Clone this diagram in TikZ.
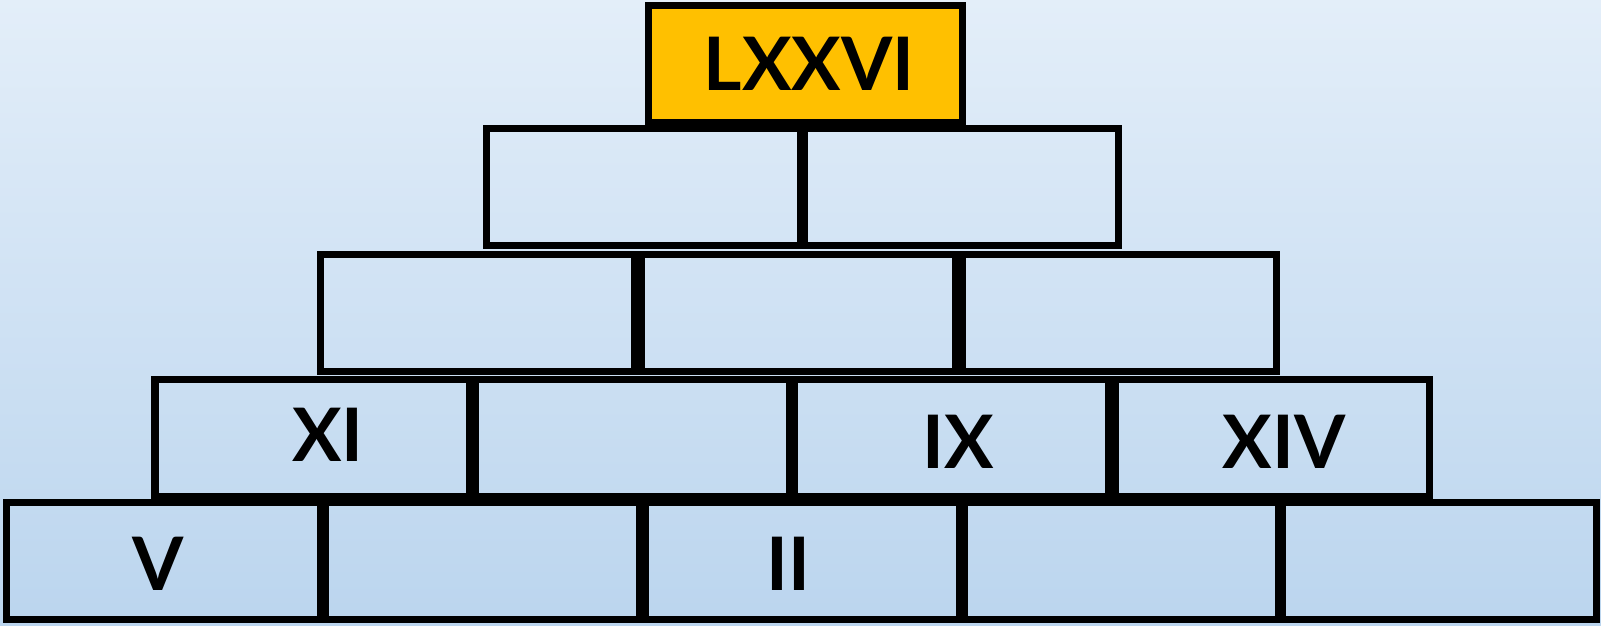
\documentclass[tikz,border=0pt]{standalone}
\usepackage{fontspec}
\setmainfont{Lato}
\usetikzlibrary{positioning}

\definecolor{sky top}{HTML}{E3EEF9}
\definecolor{sky bottom}{HTML}{BBD5EE}
\definecolor{gold}{HTML}{FFC000}

\tikzset{
  brick/.style={draw=black, line width=0.07cm, rectangle, inner sep=0pt,
    minimum width=3.14cm, minimum height=1.17cm},
  numeral/.style={font=\fontsize{21}{21}\selectfont\bfseries, inner sep=0pt}
}

\begin{document}
\begin{tikzpicture}

% Background, also fixes the size of the picture
\shade[top color=sky top, bottom color=sky bottom] (0,0) rectangle (16.01,6.26);
\useasboundingbox (0,0) rectangle (16.01,6.26);

% Bottom row
\node[brick] (r1a) at (1.63, 0.645)  {};
\node[brick] (r1b) at (4.82, 0.645)  {};
\node[brick] (r1c) at (8.02, 0.645)  {};
\node[brick] (r1d) at (11.215, 0.645) {};
\node[brick] (r1e) at (14.39, 0.645) {};

% Second row
\node[brick] (r2a) at (3.12, 1.875)  {};
\node[brick] (r2b) at (6.32, 1.875)  {};
\node[brick] (r2c) at (9.515, 1.875) {};
\node[brick] (r2d) at (12.72, 1.875) {};

% Third row
\node[brick] (r3a) at (4.775, 3.13) {};
\node[brick] (r3b) at (7.98, 3.13)  {};
\node[brick] (r3c) at (11.19, 3.13) {};

% Fourth row
\node[brick] (r4a) at (6.43, 4.385) {};
\node[brick] (r4b) at (9.61, 4.385) {};

% Top brick
\node[brick, fill=gold] (top) at (8.055, 5.615) {};

% numbers
\node[numeral] (sum)   at (8.09, 5.625)  {LXXVI};
\node[numeral] (n11)   at (3.28, 1.91)   {XI};
\node[numeral] (n9)    at (9.58, 1.84)   {IX};
\node[numeral] (n14)   at (12.84, 1.84)  {XIV};
\node[numeral] (n5)    at (1.58, 0.62)   {V};
\node[numeral] (n2)    at (7.88, 0.62)   {II};

\end{tikzpicture}
\end{document}
